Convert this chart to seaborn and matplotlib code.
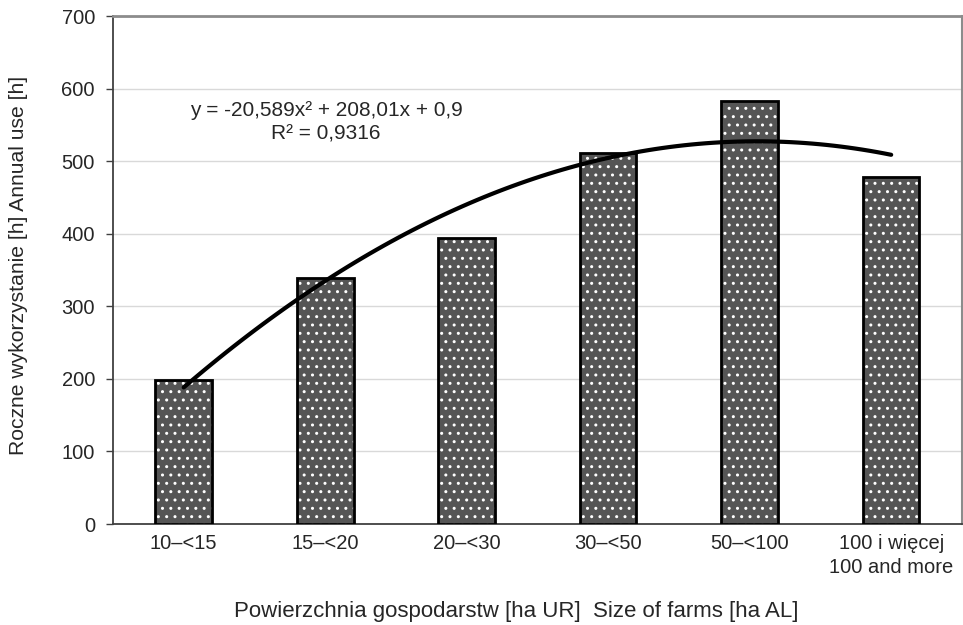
import matplotlib
matplotlib.use("Agg")
import matplotlib.pyplot as plt
from matplotlib.patches import Rectangle
import numpy as np
import pandas as pd
import seaborn as sns

# Data
categories = ["10\u2013<15", "15\u2013<20", "20\u2013<30", "30\u2013<50", "50\u2013<100",
              "100 i więcej\n100 and more"]
annual_use = [199, 339, 394, 511, 583, 478]
y_ticks = [0, 100, 200, 300, 400, 500, 600, 700]
equation_text = "y = -20,589x\u00b2 + 208,01x + 0,9\nR\u00b2 = 0,9316"

df = pd.DataFrame({"farm_size": categories, "use": annual_use})

sns.set_style("white")
plt.rcParams["font.family"] = ["Liberation Sans", "DejaVu Sans"]

fig = plt.figure(figsize=(9.63, 6.25), dpi=100)
ax = fig.add_axes([0.1173, 0.1616, 0.8816, 0.8128])

# dotted dark bars
sns.barplot(data=df, x="farm_size", y="use", color="#555555", saturation=1,
            width=0.4, hatch="..", edgecolor="white", linewidth=0, ax=ax, zorder=3)
for p in list(ax.patches):
    ax.add_patch(Rectangle(p.get_xy(), p.get_width(), p.get_height(), fill=False,
                           edgecolor="black", linewidth=2, zorder=4))

# polynomial (order 2) trend line fitted to the bars
sns.regplot(x=np.arange(len(annual_use)), y=np.array(annual_use, dtype=float), order=2,
            ci=None, scatter=False, truncate=True, ax=ax,
            line_kws={"color": "black", "linewidth": 3, "zorder": 5})

ax.text(0.251, 0.79, equation_text, transform=ax.transAxes, ha="center", va="center",
        fontsize=15, linespacing=1.3)

ax.set_xlim(-0.5, len(categories) - 0.5)
ax.set_ylim(0, 700)
ax.set_yticks(y_ticks)
ax.set_xticks(range(len(categories)))
ax.set_xticklabels(categories, fontsize=14.5, linespacing=1.35)
ax.set_xticks(np.arange(-0.5, len(categories), 1.0), minor=True)
ax.tick_params(axis="x", which="major", length=0, pad=7)
ax.tick_params(axis="x", which="minor", length=6, width=1, color="#404040", direction="out")
ax.tick_params(axis="y", length=5, width=1, color="#404040", direction="out", pad=8,
               labelsize=14.5, left=True)

ax.yaxis.grid(True, color="#d9d9d9", linewidth=1)
ax.set_axisbelow(True)
for side in ["left", "bottom"]:
    ax.spines[side].set_color("#404040")
    ax.spines[side].set_linewidth(1.3)
ax.spines["top"].set_color("#8c8c8c")
ax.spines["top"].set_linewidth(2)
ax.spines["right"].set_color("#8c8c8c")
ax.spines["right"].set_linewidth(1.5)

ax.set_xlabel("Powierzchnia gospodarstw [ha UR]  Size of farms [ha AL]", fontsize=16)
ax.set_ylabel("Roczne wykorzystanie [h] Annual use [h]", fontsize=15.2)
ax.xaxis.set_label_coords(0.4747, -0.1516)
ax.yaxis.set_label_coords(-0.100, 0.509)

fig.savefig("out.png", dpi=100)
